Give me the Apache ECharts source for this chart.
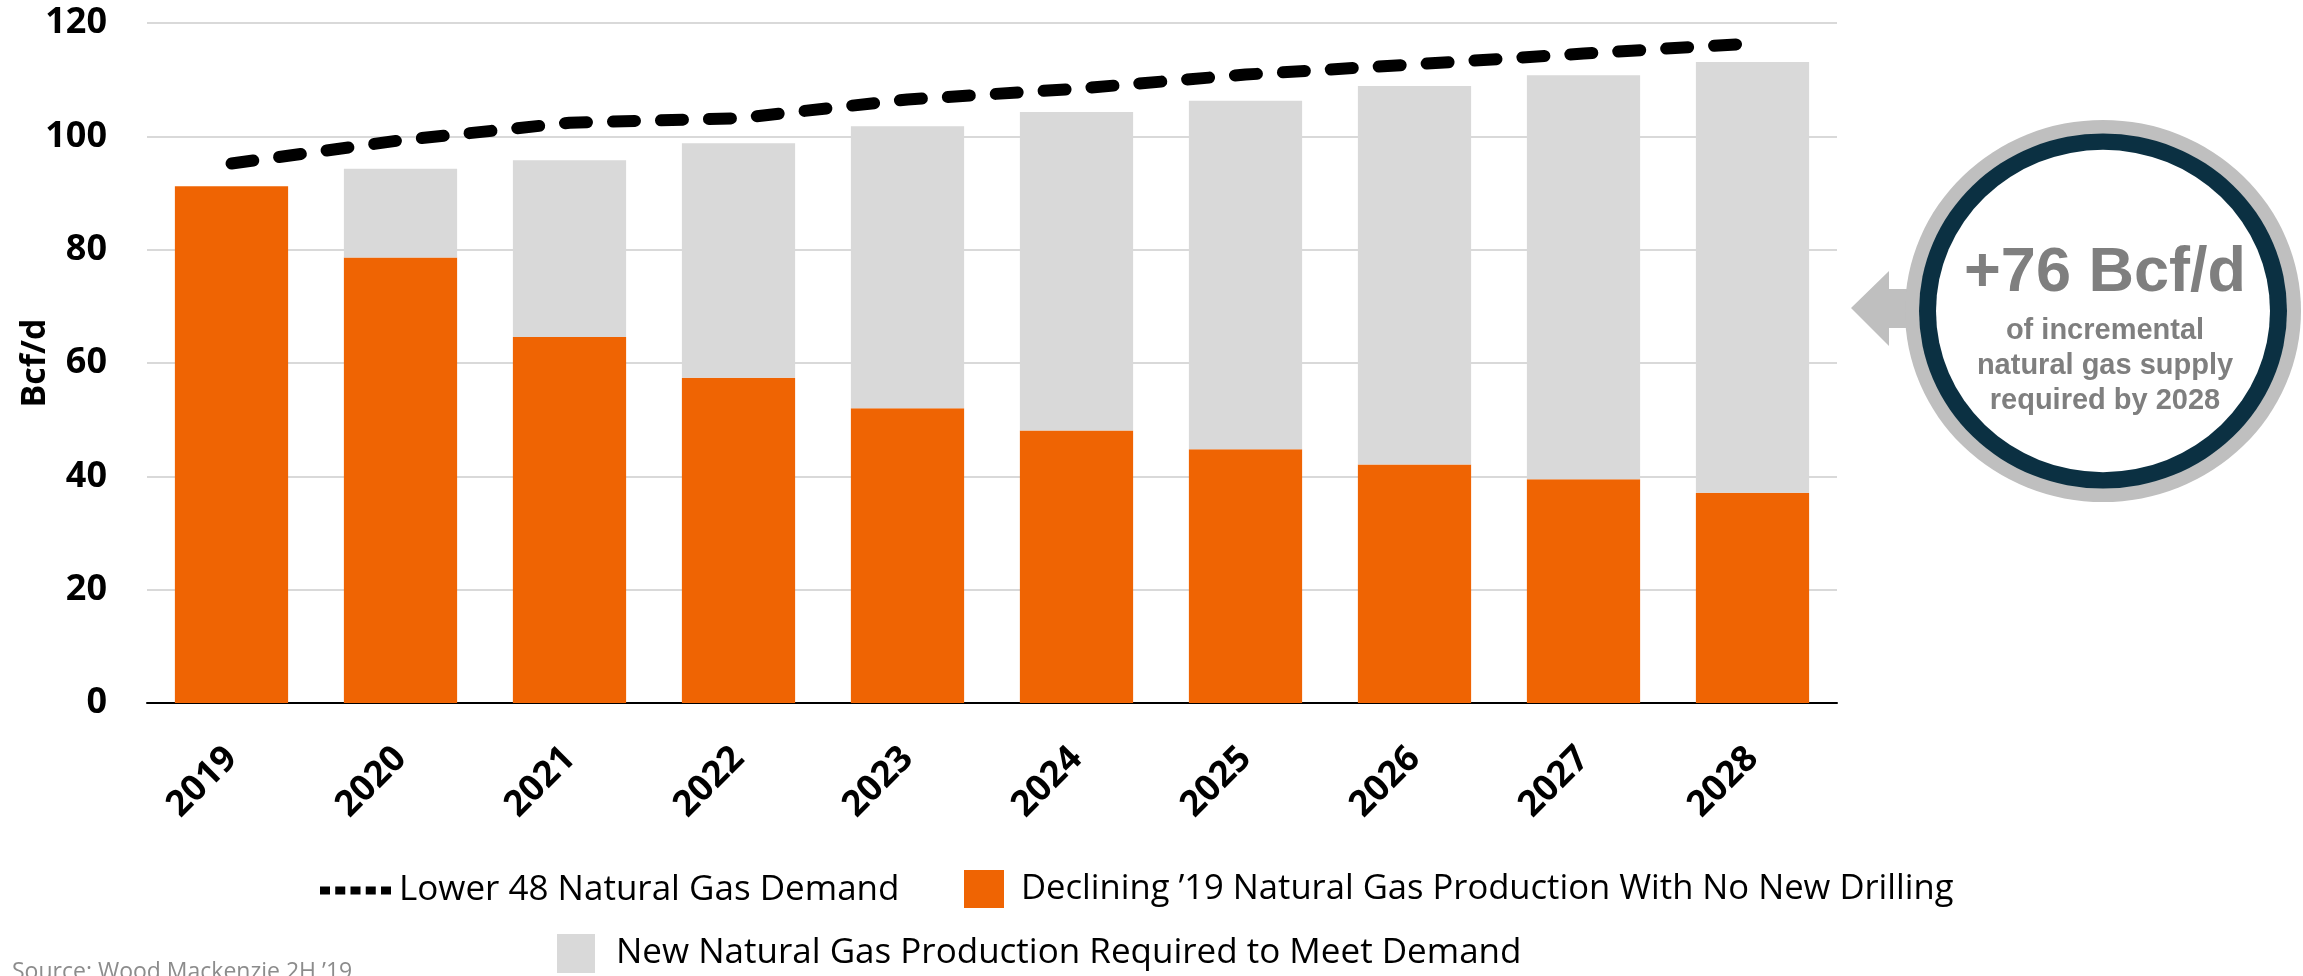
<!DOCTYPE html>
<html lang="en">
<head>
  <meta http-equiv="Content-Type" content="text/html; charset=UTF-8">
  <title>Lower 48 natural gas supply</title>
  <style>
    html, body { margin: 0; padding: 0; background: #fff; }
  </style>
</head>
<body>
  <div id="chart" style="width: 2303px; height: 976px;"></div>
  <script src="https://cdn.jsdelivr.net/npm/echarts@6/dist/echarts.min.js"></script>
  <script>
    // values (Bcf/d)
    const years = ['2019', '2020', '2021', '2022', '2023', '2024', '2025', '2026', '2027', '2028'];
    const declining = [91.2, 78.6, 64.6, 57.4, 52.0, 48.1, 44.8, 42.1, 39.5, 37.1];
    const newSupply = [0, 15.7, 31.2, 41.4, 49.8, 56.2, 61.5, 66.8, 71.3, 76.0];
    const demand = [95.2, 99.3, 102.4, 103.2, 106.5, 108.4, 110.9, 112.7, 114.6, 116.4];

    const nameDemand = 'Lower 48 Natural Gas Demand';
    const nameDecline = 'Declining \u201919 Natural Gas Production With No New Drilling';
    const nameNew = 'New Natural Gas Production Required to Meet Demand';

    const dots = 'path://M0 0h10v8H0z M15.25 0h10v8h-10z M30.5 0h10v8h-10z M45.75 0h10v8h-10z M61 0h10v8h-10z';
    const legendFont = { fontFamily: 'Open Sans', fontSize: 35, color: '#000' };

    const myChart = echarts.init(document.getElementById('chart'));
    const option = {
      animation: false,
      grid: { left: 147, right: 466, top: 23, bottom: 273, outerBoundsMode: 'none', containLabel: false },
      legend: [{
        data: [{ name: nameDemand, icon: dots }],
        left: 320, top: 873, padding: 0,
        itemWidth: 71, itemHeight: 8,
        selectedMode: false,
        textStyle: Object.assign({ padding: [0, 0, 0, 3] }, legendFont)
      }, {
        data: [{ name: nameDecline, icon: 'rect' }],
        left: 964, top: 870, padding: 0,
        itemWidth: 40, itemHeight: 38,
        selectedMode: false,
        textStyle: Object.assign({ padding: [0, 0, 0, 12] }, legendFont, { fontSize: 34.6 })
      }, {
        data: [{ name: nameNew, icon: 'rect' }],
        left: 557, top: 934, padding: 0,
        itemWidth: 38, itemHeight: 39,
        selectedMode: false,
        textStyle: Object.assign({ padding: [0, 0, 0, 16] }, legendFont)
      }],
      xAxis: {
        type: 'category',
        data: years,
        axisLine: { lineStyle: { color: '#000', width: 2 } },
        axisTick: { show: false },
        axisLabel: {
          rotate: 45,
          margin: 50,
          color: '#000',
          fontFamily: 'Open Sans',
          fontWeight: 'bold',
          fontSize: 36
        }
      },
      yAxis: {
        type: 'value',
        min: 0, max: 120, interval: 20,
        name: 'Bcf/d',
        nameLocation: 'middle',
        nameGap: 95,
        nameMoveOverlap: false,
        nameTextStyle: { color: '#000', fontFamily: 'Open Sans', fontWeight: 'bold', fontSize: 34 },
        axisLine: { show: false },
        axisTick: { show: false },
        splitLine: { lineStyle: { color: '#D9D9D9', width: 2 } },
        axisLabel: {
          margin: 40,
          color: '#000',
          fontFamily: 'Open Sans',
          fontWeight: 'bold',
          fontSize: 36
        }
      },
      series: [{
        name: nameDecline,
        type: 'bar',
        stack: 'supply',
        barWidth: '67%',
        itemStyle: { color: '#EF6403' },
        data: declining
      }, {
        name: nameNew,
        type: 'bar',
        stack: 'supply',
        itemStyle: { color: '#D9D9D9' },
        data: newSupply
      }, {
        name: nameDemand,
        type: 'line',
        symbol: 'none',
        z: 5,
        itemStyle: { color: '#000' },
        lineStyle: { color: '#000', width: 12, type: [22, 26], cap: 'round' },
        data: demand
      }],
      graphic: [
        // callout arrow + slightly flattened ring
        {
          type: 'polygon',
          shape: { points: [[1851, 308], [1889, 271], [1889, 289], [1930, 289], [1930, 328], [1889, 328], [1889, 346]] },
          style: { fill: '#BFBFBF' }
        },
        { type: 'circle', x: 2103, y: 311, scaleY: 0.965, shape: { cx: 0, cy: 0, r: 198 }, style: { fill: '#BFBFBF' } },
        { type: 'circle', x: 2103, y: 311, scaleY: 0.965, shape: { cx: 0, cy: 0, r: 184 }, style: { fill: '#0B3042' } },
        { type: 'circle', x: 2103, y: 311, scaleY: 0.965, shape: { cx: 0, cy: 0, r: 167 }, style: { fill: '#fff' } },
        {
          type: 'text', x: 2105, y: 274,
          style: {
            text: '+76 Bcf/d', fill: '#7F7F7F', align: 'center', verticalAlign: 'middle',
            font: 'bold 63px "Liberation Sans", Arial, sans-serif'
          }
        },
        {
          type: 'text', x: 2105, y: 366,
          style: {
            text: 'of incremental\nnatural gas supply\nrequired by 2028', fill: '#7F7F7F',
            align: 'center', verticalAlign: 'middle', lineHeight: 35,
            font: 'bold 29px "Liberation Sans", Arial, sans-serif'
          }
        },
        {
          type: 'text', left: 12, top: 961,
          style: {
            text: 'Source: Wood Mackenzie 2H \u201919', fill: '#8C8C8C',
            font: '23px "Open Sans", sans-serif'
          }
        }
      ]
    };
    myChart.setOption(option);
  </script>
</body>
</html>
